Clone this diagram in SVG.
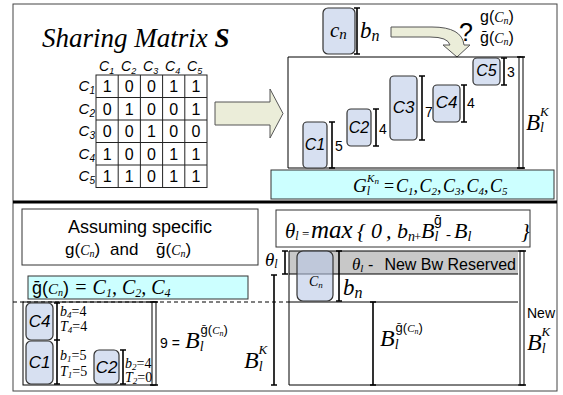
<svg xmlns="http://www.w3.org/2000/svg" width="563" height="395" viewBox="0 0 563 395">
<style>
.ser{font-family:"Liberation Serif","Times New Roman",serif;font-style:italic}
.san{font-family:"Liberation Sans",Arial,sans-serif}
.sani{font-family:"Liberation Sans",Arial,sans-serif;font-style:italic}
.box{fill:#d7e0f1;stroke:#333;stroke-width:1.2}
.beam{fill:none;stroke:#000;stroke-width:1.6}
.ln{fill:none;stroke:#000;stroke-width:1}
.cyan{fill:#ccffff;stroke:#333;stroke-width:1}
.grid{fill:none;stroke:#222;stroke-width:1}
.arr{fill:#ebedd9;stroke:#555;stroke-width:1}
</style>
<rect x="13" y="4" width="544" height="387" fill="#fff" stroke="#444" stroke-width="1"/>

<g id="title"><text x="42" y="47" class="ser" font-size="27">Sharing Matrix <tspan font-weight="bold">S</tspan></text></g>

<g id="matrix">
<rect class="grid" x="96" y="75" width="111" height="112.5"/>
<path class="grid" d="M118.2,75V187.5M140.4,75V187.5M162.6,75V187.5M184.8,75V187.5M96,97.5H207M96,120H207M96,142.5H207M96,165H207"/>
<g class="sani" font-size="14">
<text x="99" y="71">C<tspan font-size="9" dy="3">1</tspan></text>
<text x="121" y="71">C<tspan font-size="9" dy="3">2</tspan></text>
<text x="143" y="71">C<tspan font-size="9" dy="3">3</tspan></text>
<text x="165" y="71">C<tspan font-size="9" dy="3">4</tspan></text>
<text x="187" y="71">C<tspan font-size="9" dy="3">5</tspan></text>
</g>
<g class="sani" font-size="15" text-anchor="end">
<text x="95" y="91">C<tspan font-size="10" dy="3">1</tspan></text>
<text x="95" y="113.5">C<tspan font-size="10" dy="3">2</tspan></text>
<text x="95" y="136">C<tspan font-size="10" dy="3">3</tspan></text>
<text x="95" y="158.5">C<tspan font-size="10" dy="3">4</tspan></text>
<text x="95" y="181">C<tspan font-size="10" dy="3">5</tspan></text>
</g>
<g class="san" font-size="16" text-anchor="middle">
<text y="92"><tspan x="107.1">1</tspan><tspan x="129.3">0</tspan><tspan x="151.5">0</tspan><tspan x="173.7">1</tspan><tspan x="195.9">1</tspan></text>
<text y="114.5"><tspan x="107.1">0</tspan><tspan x="129.3">1</tspan><tspan x="151.5">0</tspan><tspan x="173.7">0</tspan><tspan x="195.9">1</tspan></text>
<text y="137"><tspan x="107.1">0</tspan><tspan x="129.3">0</tspan><tspan x="151.5">1</tspan><tspan x="173.7">0</tspan><tspan x="195.9">0</tspan></text>
<text y="159.5"><tspan x="107.1">1</tspan><tspan x="129.3">0</tspan><tspan x="151.5">0</tspan><tspan x="173.7">1</tspan><tspan x="195.9">1</tspan></text>
<text y="182"><tspan x="107.1">1</tspan><tspan x="129.3">1</tspan><tspan x="151.5">0</tspan><tspan x="173.7">1</tspan><tspan x="195.9">1</tspan></text>
</g>
</g>

<g id="connectors">
<path class="arr" d="M215,102H270V89L283,113.5L270,138V125H215Z"/>
<path class="arr" d="M391,27H432Q462,27 464,45H470L457,57L443,45H450Q448,37 430,37H391Z"/>
</g>

<g id="cn-top">
<rect class="box" x="323" y="8" width="32" height="46" rx="5"/>
<text x="330" y="37" class="ser" font-size="21">c<tspan font-size="15" dy="2">n</tspan></text>
<path class="beam" d="M357,8V54M354,8H360M354,54H360"/>
<text x="360" y="38" class="ser" font-size="23">b<tspan font-size="16" dy="3">n</tspan></text>
</g>

<g id="question">
<text x="459" y="41" class="san" font-size="25">?</text>
<text x="480" y="22" class="san" font-size="16">g(<tspan class="ser" font-size="14">C<tspan font-size="10" dy="2">n</tspan></tspan><tspan dy="-2">)</tspan></text>
<text x="480" y="43" class="san" font-size="16">ḡ(<tspan class="ser" font-size="14">C<tspan font-size="10" dy="2">n</tspan></tspan><tspan dy="-2">)</tspan></text>
</g>

<g id="link-box">
<path class="ln" d="M288,168V57H521M288,168H524"/>
<rect x="519" y="57" width="4" height="111" fill="#fff" stroke="#000" stroke-width="1"/>
<path class="beam" d="M517,57H525M517,168H525"/>
<text x="526" y="130" class="ser" font-size="23">B<tspan font-size="14" dy="2">l</tspan><tspan font-size="13" dx="-4" dy="-16">K</tspan></text>
</g>

<g id="c1"><rect class="box" x="303" y="122" width="24" height="46" rx="4"/><text x="315" y="150" class="sani" font-size="16" text-anchor="middle">C1</text><path class="beam" d="M332,122V168M329,122H335M329,168H335"/><text x="335" y="151" class="san" font-size="14">5</text></g>
<g id="c2"><rect class="box" x="347" y="109" width="24" height="37" rx="4"/><text x="359" y="133" class="sani" font-size="16" text-anchor="middle">C2</text><path class="beam" d="M376,109V146M373,109H379M373,146H379"/><text x="379" y="134" class="san" font-size="14">4</text></g>
<g id="c3"><rect class="box" x="390" y="76" width="27" height="64" rx="4"/><text x="403.5" y="113" class="sani" font-size="17" text-anchor="middle">C3</text><path class="beam" d="M422,76V140M419,76H425M419,140H425"/><text x="425" y="117" class="san" font-size="14">7</text></g>
<g id="c4"><rect class="box" x="433" y="85" width="27" height="37" rx="4"/><text x="446.5" y="108" class="sani" font-size="17" text-anchor="middle">C4</text><path class="beam" d="M464,85V122M461,85H467M461,122H467"/><text x="467" y="108" class="san" font-size="14">4</text></g>
<g id="c5"><rect class="box" x="473" y="58" width="27" height="27" rx="4"/><text x="486.5" y="76" class="sani" font-size="16" text-anchor="middle">C5</text><path class="beam" d="M504,58V85M501,58H507M501,85H507"/><text x="507" y="77" class="san" font-size="14">3</text></g>

<g id="group-g">
<rect class="cyan" x="271" y="170" width="283" height="29"/>
<g class="ser" font-size="18">
<text x="353" y="192" font-size="19">G<tspan font-size="12" dy="3">l</tspan><tspan font-size="11" dx="-3" dy="-13">K</tspan><tspan font-size="9" dy="2">n</tspan></text>
<text x="384" y="192" font-style="normal">=</text>
<text x="396" y="192">C<tspan font-size="11" dy="3">1</tspan><tspan dy="-3">,</tspan></text>
<text x="419.5" y="192">C<tspan font-size="11" dy="3">2</tspan><tspan dy="-3">,</tspan></text>
<text x="443" y="192">C<tspan font-size="11" dy="3">3</tspan><tspan dy="-3">,</tspan></text>
<text x="466.5" y="192">C<tspan font-size="11" dy="3">4</tspan><tspan dy="-3">,</tspan></text>
<text x="490" y="192">C<tspan font-size="11" dy="3">5</tspan></text>
</g>
</g>

<line x1="13" y1="202" x2="557" y2="202" stroke="#000" stroke-width="3"/>

<g id="assuming">
<rect x="22" y="209" width="236" height="56" fill="#fff" stroke="#333" stroke-width="1"/>
<text x="140" y="233" class="san" font-size="18" text-anchor="middle">Assuming specific</text>
<text x="65" y="255" class="san" font-size="17">g(<tspan class="ser" font-size="14">C<tspan font-size="10" dy="2">n</tspan></tspan><tspan dy="-2">)</tspan></text>
<text x="110" y="255" class="san" font-size="17">and</text>
<text x="156" y="255" class="san" font-size="17">ḡ(<tspan class="ser" font-size="14">C<tspan font-size="10" dy="2">n</tspan></tspan><tspan dy="-2">)</tspan></text>
</g>

<g id="gbar">
<rect class="cyan" x="28" y="276" width="220" height="23"/>
<text x="32" y="294" class="san" font-size="18">ḡ(<tspan class="ser" font-size="15">C<tspan font-size="10" dy="2">n</tspan></tspan><tspan dy="-2">)</tspan><tspan class="ser" font-size="20"> = C<tspan font-size="12" dy="3">1</tspan><tspan dy="-3">, C</tspan><tspan font-size="12" dy="3">2</tspan><tspan dy="-3">, C</tspan><tspan font-size="12" dy="3">4</tspan></tspan></text>
</g>

<g id="connectors-lines">
<line x1="13" y1="302" x2="289" y2="302" stroke="#000" stroke-width="1" stroke-dasharray="4,3"/>
</g>

<g id="left-link">
<rect x="23" y="302" width="131" height="83" fill="none" stroke="#000" stroke-width="1"/>
<rect x="152" y="302" width="4" height="83" fill="#fff" stroke="#000" stroke-width="1"/>
<path class="beam" d="M150,302H158M150,385H158"/>
</g>
<g id="c4b"><rect class="box" x="26" y="303" width="27" height="37" rx="5"/><text x="39.5" y="327" class="sani" font-size="17" text-anchor="middle">C4</text></g>
<g id="c1b"><rect class="box" x="26" y="341" width="27" height="43" rx="5"/><text x="39.5" y="368" class="sani" font-size="17" text-anchor="middle">C1</text></g>
<g id="beam-c4c1">
<path class="beam" d="M57,303V384M54,303H60M54,340H60M54,384H60"/>
<text x="60" y="316" class="ser" font-size="14">b<tspan font-size="9" dy="2">4</tspan><tspan font-style="normal" dy="-2">=4</tspan></text>
<text x="60" y="331" class="ser" font-size="14">T<tspan font-size="9" dy="2">4</tspan><tspan font-style="normal" dy="-2">=4</tspan></text>
<text x="60" y="360" class="ser" font-size="14">b<tspan font-size="9" dy="2">1</tspan><tspan font-style="normal" dy="-2">=5</tspan></text>
<text x="60" y="376" class="ser" font-size="14">T<tspan font-size="9" dy="2">1</tspan><tspan font-style="normal" dy="-2">=5</tspan></text>
</g>
<g id="c2b"><rect class="box" x="94" y="350" width="25" height="34" rx="5"/><text x="106.5" y="373" class="sani" font-size="17" text-anchor="middle">C2</text>
<path class="beam" d="M123,350V384M120,350H126M120,384H126"/>
<text x="125" y="368" class="ser" font-size="14">b<tspan font-size="9" dy="2">2</tspan><tspan font-style="normal" dy="-2">=4</tspan></text>
<text x="125" y="382" class="ser" font-size="14">T<tspan font-size="9" dy="2">2</tspan><tspan font-style="normal" dy="-2">=0</tspan></text>
</g>
<g id="nine"><text x="160" y="348" class="san" font-size="14">9 =</text><text x="185" y="348" class="ser" font-size="24">B<tspan font-size="14" dy="3">l</tspan><tspan class="san" font-style="normal" font-size="13" dx="-3" dy="-17">ḡ(<tspan class="ser" font-size="11">C<tspan font-size="8" dy="2">n</tspan></tspan><tspan dy="-2">)</tspan></tspan></text></g>

<g id="blk-left">
<path class="beam" d="M274,275V385M271,275H277M271,385H277"/>
<text x="244" y="368" class="ser" font-size="24">B<tspan font-size="14" dy="3">l</tspan><tspan font-size="13" dx="-4" dy="-17">K</tspan></text>
<text x="265" y="266" class="ser" font-size="19">θ<tspan font-size="12" dy="2">l</tspan></text>
<path class="beam" d="M285,251V274M282,251H288M282,274H288"/>
</g>

<g id="formula">
<rect x="276" y="210" width="254" height="37" fill="#fff" stroke="#333" stroke-width="1"/>
<g class="ser">
<text x="285" y="238" font-size="21">θ<tspan font-size="12" dy="2">l</tspan></text>
<text x="302" y="238" font-size="13" font-style="normal">=</text>
<text x="311" y="238" font-size="25">max</text>
<text x="357" y="238" font-size="22">{</text>
<text x="371" y="238" font-size="22">0</text>
<text x="386" y="238" font-size="22">,</text>
<text x="397" y="238" font-size="22">b<tspan font-size="14" dy="3">n</tspan></text>
<text x="414" y="241" font-size="13" font-style="normal">+</text>
<text x="421" y="238" font-size="22">B<tspan font-size="14" dy="3">l</tspan></text>
<text x="434" y="225" class="san" font-style="normal" font-size="14">ḡ</text>
<text x="446" y="239" font-size="15" font-style="normal">-</text>
<text x="454" y="238" font-size="22">B<tspan font-size="14" dy="3">l</tspan></text>
<text x="521" y="238" font-size="22">}</text>
</g>
</g>

<g id="new-link">
<rect x="289" y="251" width="229" height="23" fill="#c8c8c8"/>
<path class="ln" d="M289,251H518M289,274H518M289,302H518M289,385H518M289,251V385"/>
<rect x="520" y="251" width="4" height="134" fill="#fff" stroke="#000" stroke-width="1"/>
<path class="beam" d="M518,251H526M518,385H526"/>
<text x="352" y="270" class="ser" font-size="17">θ<tspan font-size="11" dy="2">l</tspan></text>
<text x="368" y="270" class="san" font-size="16">-</text>
<text x="516" y="270" class="san" font-size="16" text-anchor="end">New Bw Reserved</text>
<text x="527" y="318" class="san" font-size="14">New</text>
<text x="527" y="350" class="ser" font-size="24">B<tspan font-size="14" dy="3">l</tspan><tspan font-size="13" dx="-4" dy="-17">K</tspan></text>
</g>

<g id="cn-bottom">
<rect x="297" y="251" width="36" height="50" rx="6" fill="#b9c8e6" fill-opacity="0.6" stroke="#333" stroke-width="1.2"/>
<text x="309" y="286" class="ser" font-size="14">C<tspan font-size="9" dy="2">n</tspan></text>
<path class="beam" d="M339,251V301M336,251H342M336,301H342"/>
<text x="343" y="295" class="ser" font-size="23">b<tspan font-size="16" dy="3">n</tspan></text>
</g>

<g id="gbar-beam">
<path class="beam" d="M373,302V385M370,302H376M370,385H376"/>
<text x="380" y="346" class="ser" font-size="24">B<tspan font-size="14" dy="3">l</tspan><tspan class="san" font-style="normal" font-size="13" dx="-3" dy="-17">ḡ(<tspan class="ser" font-size="11">C<tspan font-size="8" dy="2">n</tspan></tspan><tspan dy="-2">)</tspan></tspan></text>
</g>
</svg>
